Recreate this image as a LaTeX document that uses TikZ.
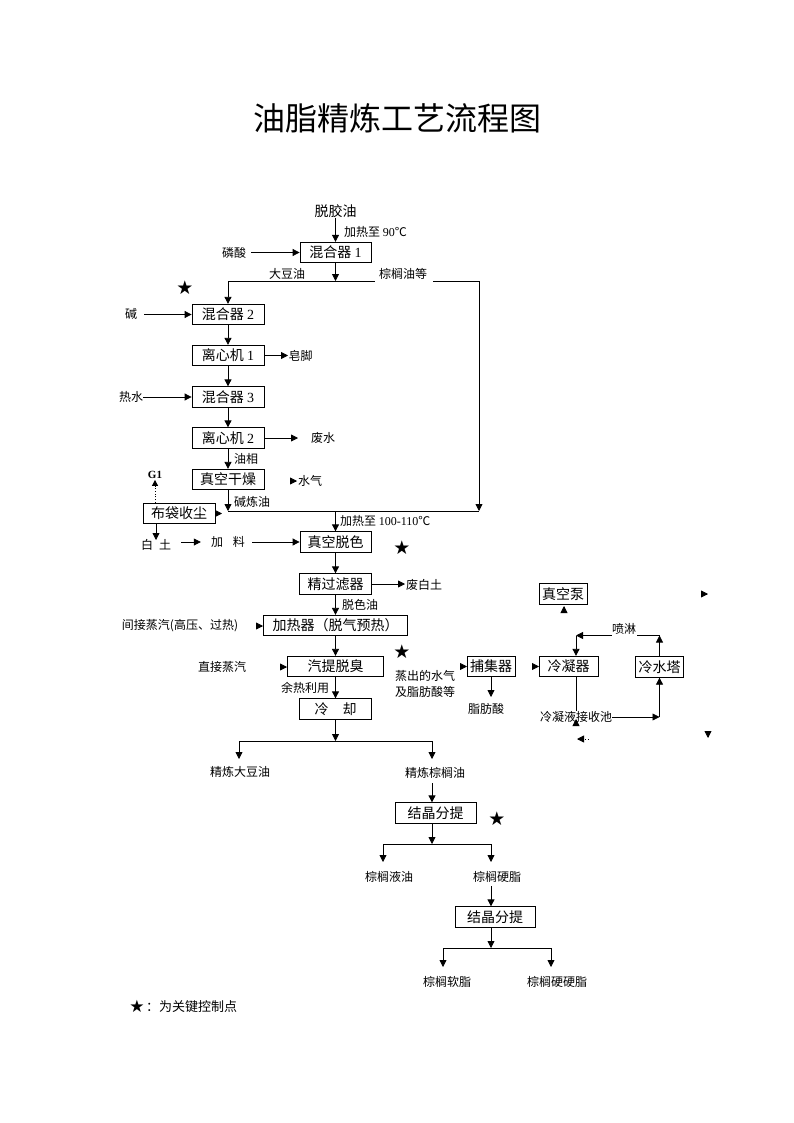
\documentclass[tikz,border=0pt]{standalone}
\usepackage{fontspec}
\setmainfont{Noto Sans CJK SC}
\newfontfamily\serifnum{Liberation Serif}
\newfontfamily\dejavu{DejaVu Sans}
\usetikzlibrary{arrows.meta}
\begin{document}
\begin{tikzpicture}[x=1pt,y=-1pt,
  box/.style={draw,line width=0.8pt,inner sep=0pt,minimum height=20.5pt,font=\fontsize{14}{14}\selectfont},
  lbl/.style={inner sep=0pt,font=\fontsize{12}{12}\selectfont},
  arr/.style={line width=0.8pt,-{Triangle[length=7pt,width=7pt]}},
  ln/.style={line width=0.8pt},
  starmark/.style={inner sep=0pt,font=\dejavu\fontsize{19}{19}\selectfont}]
\useasboundingbox (0,0) rectangle (794,1123);

% title
\node[inner sep=0pt,font=\fontsize{32}{32}\selectfont] (title) at (397,118) {油脂精炼工艺流程图};

% top section
\node[lbl,font=\fontsize{14}{14}\selectfont] (dj) at (335.5,211) {脱胶油};
\node[box,minimum width=71pt] (m1) at (335.5,252.5) {混合器 {\serifnum 1}};
\draw[arr] (dj.south) -- (m1.north);
\node[lbl,anchor=west] (h90) at (344,232) {加热至 {\serifnum 90}℃};
\node[lbl] (lin) at (234,253) {磷酸};
\draw[arr] ([xshift=5pt]lin.east |- m1.west) -- (m1.west);

\coordinate (tl) at (228,281);
\coordinate (tm) at (335.5,281);
\coordinate (tr) at (479,281);
\coordinate (bl) at (228,511);
\coordinate (bm) at (335.5,511);
\coordinate (br) at (479,511);
\node[lbl] (dd) at (287,274) {大豆油};
\node[lbl] (zl) at (403,274) {棕榈油等};
\draw[arr] (m1.south) -- (tm);
\draw[ln] (tl) -- ([xshift=-4pt]zl.west |- tl);
\draw[arr] ([xshift=6pt]zl.east |- tr) -- (tr) -- (br);
\draw[ln] (bl) -- (br);

\node[starmark] (st1) at (185,288) {★};
\node[box,minimum width=72pt] (m2) at (228,314.5) {混合器 {\serifnum 2}};
\draw[arr] (tl) -- (m2.north);
\node[lbl] (jian) at (131,314) {碱};
\draw[arr] ([xshift=7pt]jian.east |- m2.west) -- (m2.west);

\node[box,minimum width=72pt] (c1) at (228,355.5) {离心机 {\serifnum 1}};
\draw[arr] (m2.south) -- (c1.north);
\coordinate (zjp) at (288,355.5);
\draw[arr] (c1.east) -- (zjp);
\node[lbl,anchor=west] (zj1) at (288.5,355.5) {皂脚};

\node[box,minimum width=72pt] (m3) at (228,397) {混合器 {\serifnum 3}};
\draw[arr] (c1.south) -- (m3.north);
\node[lbl] (rs) at (131,397) {热水};
\draw[arr] (rs.east |- m3.west) -- (m3.west);

\node[box,minimum width=72pt] (c2) at (228,438) {离心机 {\serifnum 2}};
\draw[arr] (m3.south) -- (c2.north);
\coordinate (fsp) at (298,438);
\draw[arr] (c2.east) -- (fsp);
\node[lbl] (fs) at (323,438) {废水};

\node[lbl] (yx) at (246,459) {油相};
\node[box,minimum width=72pt] (dry) at (228,479.5) {真空干燥};
\draw[arr] (c2.south) -- (dry.north);
\coordinate (s1) at (297,481);
\draw[arr] ([xshift=-1pt]s1) -- (s1);
\node[lbl,anchor=west] (sq) at (298,481) {水气};
\node[lbl] (jly) at (252,502) {碱炼油};
\draw[arr] (dry.south) -- (bl);

\node[lbl,anchor=west] (h100) at (340,521) {加热至 {\serifnum 100-110}℃};
\node[box,minimum width=71pt] (decol) at (335.5,542) {真空脱色};
\draw[arr] (bm) -- (decol.north);
\node[starmark] (st2) at (402,548) {★};

% bag filter
\node[box,minimum width=72pt] (bag) at (179,513.5) {布袋收尘};
\node[inner sep=0pt,font=\serifnum\bfseries\fontsize{11}{11}\selectfont] (g1) at (155,475) {G1};
\draw[line width=0.8pt,dotted,-{Triangle[length=6pt,width=6pt]}] (g1 |- bag.north) -- ([yshift=-1pt]g1.south);
\coordinate (s2) at (222,513.5);
\draw[arr] ([xshift=-1pt]s2) -- (s2);
\node[lbl] (bai) at (147,545) {白};
\node[lbl] (tu) at (165,545) {土};
\coordinate (bt) at (156,540);
\draw[arr] (bag.south -| bt) -- (bt);
\node[lbl] (jl) at (228,542) {加\hspace{10pt}料};
\draw[arr] ([xshift=10pt]tu.east |- decol.west) -- ([xshift=-10pt]jl.west |- decol.west);
\draw[arr] ([xshift=7pt]jl.east |- decol.west) -- (decol.west);

% filter and heater
\node[box,minimum width=72pt] (filt) at (335.5,584) {精过滤器};
\draw[arr] (decol.south) -- (filt.north);
\coordinate (fbp) at (405,584);
\draw[arr] (filt.east) -- (fbp);
\node[lbl,anchor=west] (fbt) at (406,585) {废白土};
\node[lbl] (tsy) at (360,605) {脱色油};
\node[box,minimum width=144pt] (heat) at (335.5,625.5) {加热器（脱气预热）};
\draw[arr] (filt.south) -- (heat.north);
\node[lbl] (jjzq) at (180,626) {间接蒸汽(高压、过热)};
\coordinate (s3) at (263,626);
\draw[arr] ([xshift=-1pt]s3) -- (s3);
\node[starmark] (st3) at (402,652) {★};

\node[box,minimum width=96pt] (deod) at (335.5,666.5) {汽提脱臭};
\draw[arr] (heat.south) -- (deod.north);
\node[lbl] (zjzq) at (222,667) {直接蒸汽};
\coordinate (s4) at (287,667);
\draw[arr] ([xshift=-1pt]s4) -- (s4);
\node[lbl] (yr) at (305,688) {余热利用};
\node[box,minimum width=72pt] (cool) at (335.5,709) {冷　却};
\draw[arr] (deod.south) -- (cool.north);

% right side
\node[lbl,anchor=west,align=left,font=\fontsize{12}{15.5}\selectfont] (zc) at (395,684) {蒸出的水气\\及脂肪酸等};
\coordinate (s5) at (467,666.5);
\draw[arr] ([xshift=-1pt]s5) -- (s5);
\node[box,minimum width=48pt] (trap) at (491,666.5) {捕集器};
\coordinate (tb) at (491,697);
\draw[arr] (trap.south) -- (tb);
\node[lbl] (zfs) at (486,709) {脂肪酸};
\coordinate (s6) at (539,666.5);
\draw[arr] ([xshift=-1pt]s6) -- (s6);
\node[box,minimum width=59pt] (cond) at (568.5,666.5) {冷凝器};
\node[box,minimum width=48pt] (tower) at (659.5,667) {冷水塔};
\node[box,minimum width=48pt] (pump) at (563,594) {真空泵};
\coordinate (s7) at (564,606);
\draw[arr] ([yshift=-1pt]s7) -- (s7);

\coordinate (ct) at (659.5,635.5);
\coordinate (cl) at (576,635.5);
\node[lbl] (pl) at (624,629) {喷淋};
\draw[arr] (tower.north) -- (ct);
\draw[ln] (ct) -- ([xshift=1pt]pl.east |- ct);
\draw[arr] (pl.west |- ct) -- (cl);
\draw[arr] (cl) -- (cl |- cond.north);
\node[lbl] (jsc) at (576,717) {冷凝液接收池};
\draw[ln] (cl |- cond.south) -- (cl |- jsc.north);
\coordinate (s8) at (576,719);
\draw[arr] ([yshift=-1pt]s8) -- (s8);
\coordinate (cb) at (659.5,717);
\draw[arr] (jsc.east) -- (cb);
\draw[arr] (cb) -- (tower.south);

\coordinate (s9) at (708,594);
\draw[arr] ([xshift=-1pt]s9) -- (s9);
\coordinate (s10) at (708,738);
\draw[arr] ([yshift=1pt]s10) -- (s10);
\coordinate (s11) at (577,739);
\draw[arr] ([xshift=1pt]s11) -- (s11);
\draw[line width=0.8pt,dotted] (585,739) -- (590,739);

% lower section
\coordinate (lj) at (335.5,741);
\coordinate (ll) at (239,741);
\coordinate (lr) at (432,741);
\draw[arr] (cool.south) -- (lj);
\draw[ln] (ll) -- (lr);
\coordinate (lle) at (239,759);
\coordinate (lre) at (432,759);
\draw[arr] (ll) -- (lle);
\draw[arr] (lr) -- (lre);
\node[lbl] (jd) at (240,772) {精炼大豆油};
\node[lbl] (jz) at (435,773) {精炼棕榈油};

\node[box,minimum width=81pt] (cr1) at (435.5,813) {结晶分提};
\coordinate (jzs) at (432,783);
\draw[arr] (jzs) -- (cr1.north -| jzs);
\node[starmark] (st4) at (497,819) {★};
\coordinate (mj) at (432,844);
\coordinate (ml) at (383,844);
\coordinate (mr) at (491,844);
\draw[arr] (cr1.south -| mj) -- (mj);
\draw[ln] (ml) -- (mr);
\coordinate (mle) at (383,862);
\coordinate (mre) at (491,862);
\draw[arr] (ml) -- (mle);
\draw[arr] (mr) -- (mre);
\node[lbl] (zyy) at (389,877) {棕榈液油};
\node[lbl] (zyz) at (497,877) {棕榈硬脂};

\node[box,minimum width=80pt] (cr2) at (495,917) {结晶分提};
\coordinate (zyzs) at (491,886);
\draw[arr] (zyzs) -- (cr2.north -| zyzs);
\coordinate (nj) at (491,948);
\coordinate (nl) at (443,948);
\coordinate (nr) at (551,948);
\draw[arr] (cr2.south -| nj) -- (nj);
\draw[ln] (nl) -- (nr);
\coordinate (nle) at (443,967);
\coordinate (nre) at (551,967);
\draw[arr] (nl) -- (nle);
\draw[arr] (nr) -- (nre);
\node[lbl] (rz) at (447,982) {棕榈软脂};
\node[lbl] (yyz) at (557,982) {棕榈硬硬脂};

% legend
\node[starmark,font=\dejavu\fontsize{17}{17}\selectfont] (st5) at (137,1006) {★};
\node[lbl,anchor=west,font=\fontsize{13}{13}\selectfont] (leg) at (146,1007) {：为关键控制点};
\end{tikzpicture}
\end{document}
